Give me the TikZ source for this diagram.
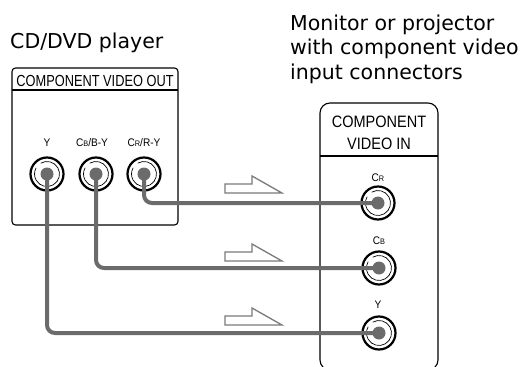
\documentclass[tikz,border=0pt]{standalone}
\usepackage{fontspec}
\newfontfamily\titlef{DejaVu Sans}
\newfontfamily\labf{Liberation Sans}
\definecolor{cablegray}{HTML}{6B6B6B}
\definecolor{arrowgray}{HTML}{7A7A7A}
\begin{document}
\begin{tikzpicture}[x=1pt,y=-1pt,
  title/.style={font=\titlef\fontsize{20.5}{24}\selectfont, inner sep=0pt, anchor=base west},
  header/.style={font=\labf\fontsize{16}{20}\selectfont, inner sep=0pt, anchor=base, xscale=0.8},
  rheader/.style={font=\labf\fontsize{16.5}{20}\selectfont, inner sep=0pt, anchor=base, xscale=0.88},
  jacklab/.style={font=\labf\fontsize{11}{13}\selectfont, inner sep=0pt, anchor=base, xscale=0.92},
  panel/.style={draw=black, line width=1.1pt},
  cable/.style={draw=cablegray, line width=4pt, rounded corners=8pt},
  hollow/.style={draw=arrowgray, fill=white, line width=1.3pt, line join=miter},
  ring/.style={draw=black, line width=2.2pt},
  inring/.style={draw=black, line width=0.7pt},
  dot/.style={fill=cablegray},
]
\useasboundingbox (0,0) rectangle (523,367);
\clip (0,0) rectangle (523,367);
\fill[white] (0,0) rectangle (523,367);

% titles
\node[title] (ttl) at (10,48) {CD/DVD player};
\node[title] (mon1) at (290,30) {Monitor or projector};
\node[title] (mon2) at (290,54.5) {with component video};
\node[title] (mon3) at (290,79) {input connectors};

% left panel
\draw[panel, rounded corners=3.5pt] (12,68) rectangle (178,225);
\draw[panel] (12,90) -- (178,90);
\node[header] (hout) at (95,86.5) {COMPONENT VIDEO OUT};

% right panel
\draw[panel, rounded corners=10pt] (320,103) rectangle (438,370);
\draw[panel] (320,156) -- (438,156);
\node[rheader] (hin1) at (379,127) {COMPONENT};
\node[rheader] (hin2) at (379,149) {VIDEO IN};

% jack positions
\coordinate (oY) at (47,174);
\coordinate (oB) at (96,174);
\coordinate (oR) at (144,174);
\coordinate (iR) at (378,203);
\coordinate (iB) at (379,268);
\coordinate (iY) at (379,333);

% labels
\node[jacklab] (loY) at (47,146) {Y};
\node[jacklab] (loB) at (92,146) {C{\fontsize{8}{9}\selectfont B}/B-Y};
\node[jacklab] (loR) at (144,146) {C{\fontsize{8}{9}\selectfont R}/R-Y};
\node[jacklab] (liR) at (378,181) {C{\fontsize{8}{9}\selectfont R}};
\node[jacklab] (liB) at (379,244) {C{\fontsize{8}{9}\selectfont B}};
\node[jacklab] (liY) at (378,308.5) {Y};

% jacks
\foreach \j in {oY,oB,oR,iR,iB,iY}{
  \draw[ring] (\j) circle (16.5);
  \draw[inring] (\j) ++(240:12.5) arc (240:570:12.5);
}

% cables
\draw[cable] (oR) -- (oR |- iR) -- (iR);
\draw[cable] (oB) -- (oB |- iB) -- (iB);
\draw[cable] (oY) -- (oY |- iY) -- (iY);

% dots
\foreach \j in {oY,oB,oR,iR,iB,iY}{
  \fill[dot] (\j) circle (6.5);
}

% hollow half arrows
\foreach \b in {193,261,325}{
  \draw[hollow] (225,\b) -- (225,\b-9) -- (252,\b-9) -- (252,\b-17) -- (282,\b) -- cycle;
}
\end{tikzpicture}
\end{document}
